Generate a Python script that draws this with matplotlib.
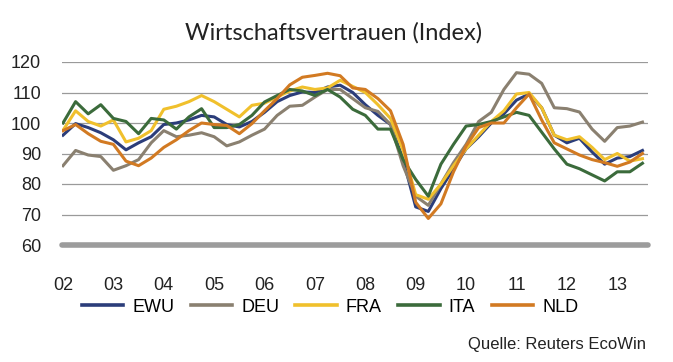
import matplotlib
matplotlib.use("Agg")
import matplotlib.pyplot as plt

plt.rcParams['font.family'] = ['Liberation Sans', 'DejaVu Sans']

# quarterly readings, Jan 2002 .. Jul 2013
quarters = [2002 + i / 4 for i in range(47)]

ewu = [96, 99.8, 98.5, 96.8, 94.5, 91.2, 93.5, 95.5, 99.5, 100, 101, 102.5,
       102, 99.5, 98.7, 100.5, 103.5, 107, 109, 110.2, 110, 111.8, 112.4, 110,
       106, 102.5, 99.5, 88, 72.5, 71, 78.5, 85, 91.5, 95.5, 100,
       103, 107.5, 109.5, 105, 96, 93.5, 95, 90.5, 86.5, 88.5, 89, 91]
deu = [86, 91, 89.5, 89, 84.5, 86, 88, 93.5, 97.5, 95.5, 96, 96.8,
       95.5, 92.5, 93.8, 96, 98, 102.5, 105.5, 105.8, 108.5, 111, 111, 108,
       105, 103.8, 99.5, 86, 76, 73, 80, 87, 93, 100.5, 103.5,
       111, 116.5, 116, 113, 105, 104.7, 103.6, 98, 94, 98.5, 99, 100.3]
fra = [97.6, 104, 100.5, 99, 101, 93.8, 95, 97.5, 104.5, 105.5, 107, 109,
       107, 104.5, 102, 105.8, 106.5, 108.5, 110.5, 111.8, 111, 111.5, 114, 112,
       110, 106, 101.5, 91, 76.5, 75, 80, 86, 91.5, 96, 100.5,
       104, 109.5, 110, 105, 96, 94.5, 95.5, 92, 88, 90, 87.5, 88.3]
ita = [100, 107, 103, 106, 101.5, 100.5, 96.5, 101.5, 101, 98, 102, 104.7,
       98.5, 98.5, 99.5, 102.5, 106.9, 109, 111, 110.5, 109, 111, 108.5, 104.5,
       102.5, 98, 98, 88, 81.5, 76, 86.5, 93, 99, 99.5, 100.5,
       102, 103.5, 102.5, 97, 91.5, 86.5, 85, 83, 81, 84, 84, 86.8]
nld = [97.5, 99.5, 96.5, 94, 93, 87.5, 86, 88.5, 92, 94.5, 97.5, 100,
       99.5, 99.2, 96.5, 99.8, 104, 108, 112.5, 115, 115.6, 116.3, 115.5, 111.5,
       111, 108, 104, 93, 74, 68.7, 73.5, 84, 92.5, 98.5, 100,
       100, 105, 109.5, 101, 93.5, 91.5, 89.5, 88, 87, 85.8, 87.2, 90]

names = ['EWU', 'DEU', 'FRA', 'ITA', 'NLD']
colors = ['#2b3d7a', '#8a8070', '#f0c02c', '#3b6b3b', '#d27a22']
years = list(range(2002, 2014))
year_labels = ['%02d' % (y - 2000) for y in years]

fig = plt.figure(figsize=(6.73, 3.62), dpi=100)
ax = fig.add_axes([62 / 673, 1 - 245 / 362, 586 / 673, 183 / 362])

for yv in [70, 80, 90, 100, 110, 120]:
    ax.axhline(yv, color='#9a9a9a', lw=0.9, zorder=1)
ax.axhline(60, color='#9c9c9c', lw=4, solid_capstyle='round', clip_on=False, zorder=1)

for name, vals, c in zip(names, [ewu, deu, fra, ita, nld], colors):
    ax.plot(quarters, vals, color=c, lw=2.2, label=name, zorder=3)

ax.set_xlim(2002 - 1 / 50.4, 2013.61)
ax.set_ylim(60, 120)
ax.set_yticks([60, 70, 80, 90, 100, 110, 120])
ax.set_xticks(years)
ax.set_xticklabels(year_labels)
ax.tick_params(axis='both', length=0, labelsize=13, colors='#222222')
ax.tick_params(axis='y', pad=15)
ax.tick_params(axis='x', pad=23)
for s in ax.spines.values():
    s.set_visible(False)

fig.text(334 / 673, 1 - 33 / 362, 'Wirtschaftsvertrauen (Index)', ha='center', va='center',
         fontsize=17, color='#222222', family=['Lato', 'DejaVu Sans'])

fig.legend(loc='center', bbox_to_anchor=(330 / 673, 1 - 307 / 362), ncol=5, frameon=False,
           fontsize=13, handlelength=2.3, handletextpad=0.5, columnspacing=0.9)
for l in fig.legends[0].get_lines():
    l.set_linewidth(2.6)

fig.text(646 / 673, 1 - 344 / 362, 'Quelle: Reuters EcoWin', ha='right', va='center',
         fontsize=12, color='#222222')

fig.savefig('out.png', dpi=100)
